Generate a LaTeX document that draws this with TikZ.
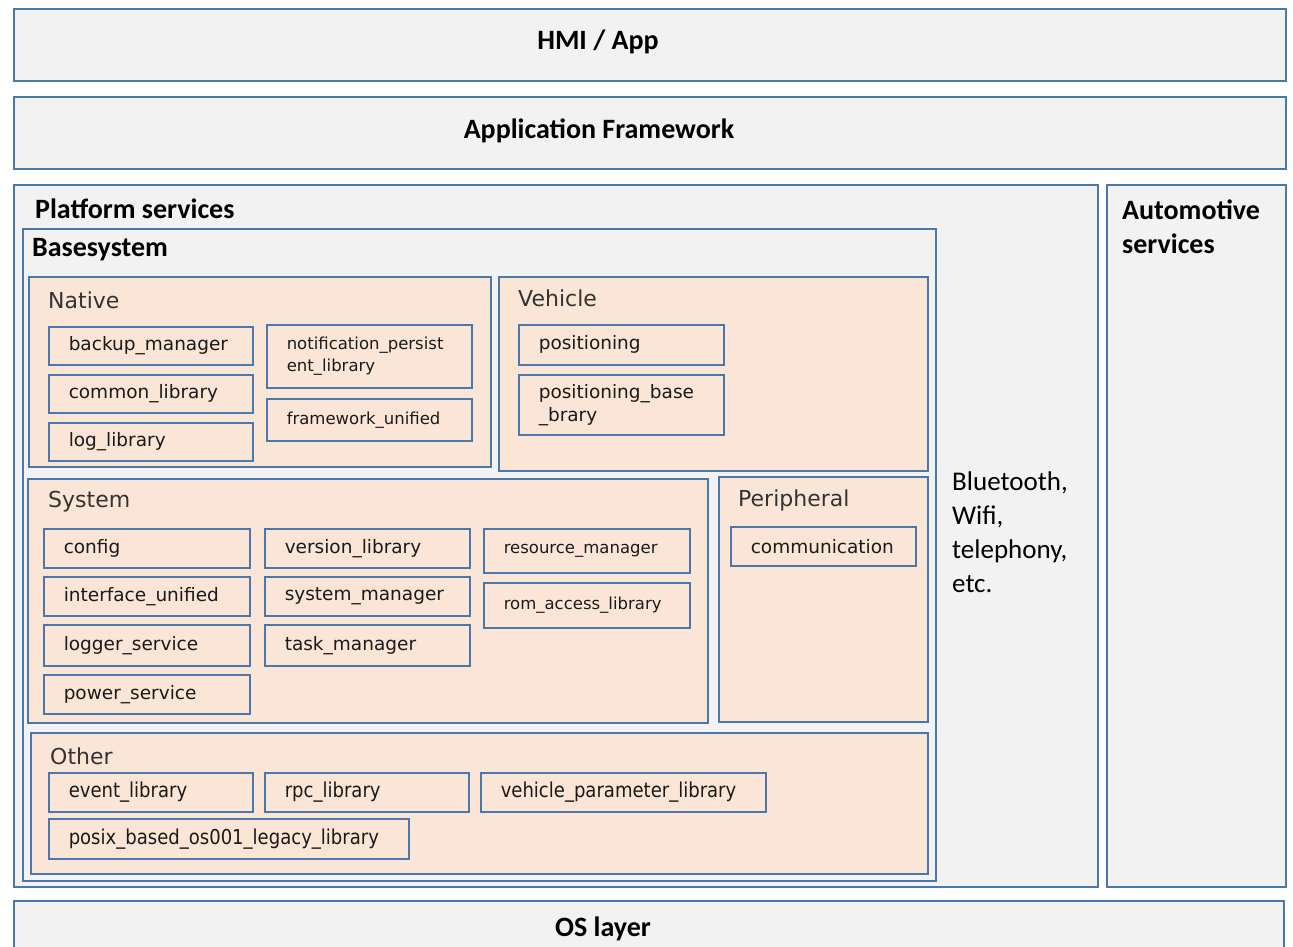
\documentclass[tikz,border=0pt]{standalone}
\usepackage{fontspec}
\setmainfont{Carlito}
\newfontfamily\libfont{DejaVu Sans}
\newfontfamily\libcond[FakeStretch=0.88]{DejaVu Sans}
\definecolor{frame}{HTML}{4A78A8}
\definecolor{layerfill}{HTML}{F2F2F2}
\definecolor{peach}{HTML}{FBE5D6}
\definecolor{txt}{HTML}{1A1A1A}
\definecolor{grouptxt}{HTML}{333333}

\tikzset{
  layer/.style={draw=frame, line width=1.9pt, fill=layerfill, anchor=north west, inner sep=0pt},
  group/.style={draw=frame, line width=1.6pt, fill=peach, anchor=north west, inner sep=0pt},
  lib/.style={draw=frame, line width=1.5pt, fill=peach, anchor=north west,
              inner xsep=20pt, inner ysep=0pt, align=left, text=txt,
              font=\libfont\fontsize{18.5}{23}\selectfont},
  small/.style={font=\libfont\fontsize{16.5}{22}\selectfont},
  cond/.style={inner xsep=18pt, font=\libcond\fontsize{20.5}{24}\selectfont},
  bigtitle/.style={font=\bfseries\fontsize{28}{34}\selectfont, text=black, inner sep=0pt},
  grouptitle/.style={font=\libfont\fontsize{22}{26}\selectfont, text=grouptxt, anchor=west, inner sep=0pt},
  note/.style={font=\fontsize{27}{34}\selectfont, text=black, align=left, inner sep=0pt}
}

% name, x, y, width, height, [extra style], text
\newcommand\libbox[7][]{%
  \pgfmathsetmacro\libtw{#5-40}%
  \node[lib, #1, minimum width=#5pt, minimum height=#6pt, text width=\libtw pt] (#2) at (#3,#4) {#7};}

\begin{document}
\begin{tikzpicture}[x=1pt, y=-1pt]
\useasboundingbox (0,0) rectangle (1293,946);
\clip (0,0) rectangle (1293,946);

% top layers
\node[layer, minimum width=1272pt, minimum height=72pt] (hmi) at (13,8) {};
\node[bigtitle] (hmiT) at (598,42) {HMI / App};
\node[layer, minimum width=1272pt, minimum height=72pt] (appfw) at (13,96) {};
\node[bigtitle] (appfwT) at (599,131) {Application Framework};

% platform and automotive services
\node[layer, minimum width=1084pt, minimum height=702pt] (platform) at (13,184) {};
\node[bigtitle, anchor=west] (platformT) at (35,209) {Platform services};
\node[layer, minimum width=179pt, minimum height=702pt] (auto) at (1106,184) {};
% the base of a two-line node is its last line
\node[bigtitle, align=left, anchor=base west] (autoT) at (1122,253) {Automotive\\services};

\node[note, anchor=base west] (bt) at (952,592) {Bluetooth,\\Wifi,\\telephony,\\etc.};

% OS layer
\node[layer, minimum width=1270pt, minimum height=70pt] (os) at (13,900) {};
\node[bigtitle] (osT) at (603,929) {OS layer};

% basesystem
\node[layer, line width=1.6pt, minimum width=913pt, minimum height=652pt] (base) at (22,228) {};
\node[bigtitle, anchor=west] (baseT) at (32,250) {Basesystem};

% Native
\node[group, minimum width=462pt, minimum height=190pt] (native) at (28,276) {};
\node[grouptitle] (nativeT) at (48,300) {Native};
\libbox{backup}{48}{326}{204}{38}{backup\_manager}
\libbox{common}{48}{374}{204}{38}{common\_library}
\libbox{log}{48}{422}{204}{38}{log\_library}
\libbox[small]{notif}{266}{324}{205}{63}{notification\_persist\\ent\_library}
\libbox[small]{fwu}{266}{398}{205}{42}{framework\_unified}

% Vehicle
\node[group, minimum width=429pt, minimum height=194pt] (vehicle) at (498,276) {};
\node[grouptitle] (vehicleT) at (518,298) {Vehicle};
\libbox{pos}{518}{324}{205}{40}{positioning}
\libbox{posbase}{518}{374}{205}{60}{positioning\_base\\\_brary}

% System
\node[group, minimum width=680pt, minimum height=244pt] (system) at (27,478) {};
\node[grouptitle] (systemT) at (48,502) {System};
\libbox{config}{43}{528}{206}{39}{config}
\libbox{iface}{43}{576}{206}{39}{interface\_unified}
\libbox{logger}{43}{624}{206}{41}{logger\_service}
\libbox{power}{43}{674}{206}{39}{power\_service}
\libbox{version}{264}{528}{205}{39}{version\_library}
\libbox{sysmgr}{264}{576}{205}{39}{system\_manager}
\libbox{taskmgr}{264}{624}{205}{41}{task\_manager}
\libbox[small]{resmgr}{483}{528}{206}{44}{resource\_manager}
\libbox[small]{rom}{483}{582}{206}{45}{rom\_access\_library}

% Peripheral
\node[group, minimum width=209pt, minimum height=245pt] (periph) at (718,476) {};
\node[grouptitle] (periphT) at (738,500) {Peripheral};
\libbox{comm}{730}{526}{185}{39}{communication}

% Other
\node[group, minimum width=897pt, minimum height=141pt] (other) at (30,732) {};
\node[grouptitle] (otherT) at (50,756) {Other};
\libbox[cond]{event}{48}{772}{204}{39}{event\_library}
\libbox[cond]{rpc}{264}{772}{204}{39}{rpc\_library}
\libbox[cond]{vpl}{480}{772}{285}{39}{vehicle\_parameter\_library}
\libbox[cond]{posix}{48}{818}{360}{40}{posix\_based\_os001\_legacy\_library}
\end{tikzpicture}
\end{document}
